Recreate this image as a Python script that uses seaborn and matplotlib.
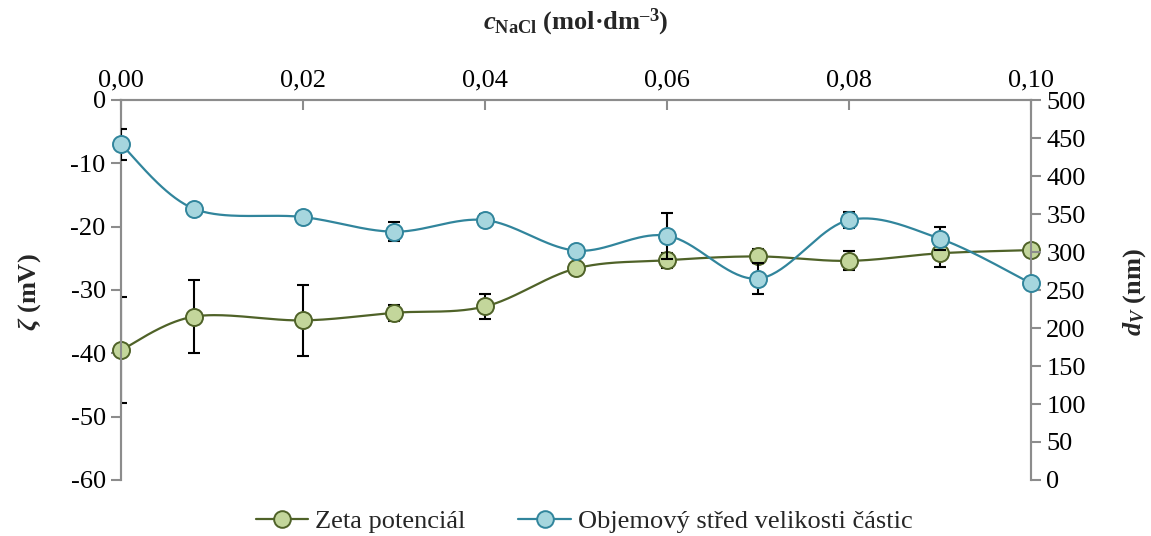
import numpy as np
import matplotlib
matplotlib.use("Agg")
import matplotlib.pyplot as plt
import seaborn as sns
import pandas as pd
from matplotlib.lines import Line2D
from matplotlib.ticker import FuncFormatter, FixedLocator

# ---- data ----
conc = [0.0, 0.008, 0.02, 0.03, 0.04, 0.05, 0.06, 0.07, 0.08, 0.09, 0.10]
zeta = [-39.5, -34.2, -34.8, -33.6, -32.6, -26.6, -25.3, -24.7, -25.4, -24.2, -23.7]
zeta_err = [8.4, 5.8, 5.6, 1.3, 2.0, 0.0, 1.2, 1.1, 1.5, 2.1, 0.0]
dv = [441.7, 357.0, 346.0, 326.7, 342.0, 301.8, 321.4, 265.0, 342.0, 317.5, 258.8]
dv_err = [20.0, 5.0, 0.0, 12.5, 8.0, 0.0, 30.0, 20.0, 11.0, 15.0, 0.0]
x_ticks = [0.0, 0.02, 0.04, 0.06, 0.08, 0.10]
left_ticks = [0, -10, -20, -30, -40, -50, -60]
right_ticks = [0, 50, 100, 150, 200, 250, 300, 350, 400, 450, 500]
labels = ["Zeta potenciál", "Objemový střed velikosti částic"]

sns.set_theme(style="white")
plt.rcParams['font.family'] = ['Liberation Serif', 'DejaVu Serif']
plt.rcParams['mathtext.fontset'] = 'custom'
plt.rcParams['mathtext.rm'] = 'Liberation Serif:bold'
plt.rcParams['mathtext.it'] = 'Liberation Serif:italic:bold'
plt.rcParams['mathtext.bf'] = 'Liberation Serif:bold'

G_LINE, G_FILL = "#4F6228", "#C3D69B"
B_LINE, B_FILL = "#31859C", "#A6D6DE"
SPINE = "#8C8C8C"
FS = 19
W_PX, H_PX = 1151, 536

fig = plt.figure(figsize=(11.51, 5.36), dpi=100)
ax = fig.add_axes([121/W_PX, 1-480/H_PX, (1031-121)/W_PX, (480-100)/H_PX])
ax2 = ax.twinx()

XMIN, XMAX = 0.0, 0.10
ax.set_xlim(XMIN, XMAX)
ax.set_ylim(-60, 0)
ax2.set_ylim(0, 500)


def smooth_curve(xs, ys, ylim, n=40):
    # Catmull-Rom style bezier in screen-proportional space
    W, H = 910.0, 380.0
    px = (np.asarray(xs) - XMIN) / (XMAX - XMIN) * W
    py = (np.asarray(ys) - ylim[0]) / (ylim[1] - ylim[0]) * H
    P = np.column_stack([px, py])
    out = []
    m = len(P)
    for i in range(m - 1):
        p0 = P[max(i - 1, 0)]
        p1 = P[i]
        p2 = P[i + 1]
        p3 = P[min(i + 2, m - 1)]
        c1 = p1 + (p2 - p0) / 6.0
        c2 = p2 - (p3 - p1) / 6.0
        t = np.linspace(0, 1, n)[:, None]
        seg = ((1 - t) ** 3) * p1 + 3 * ((1 - t) ** 2) * t * c1 + 3 * (1 - t) * t ** 2 * c2 + t ** 3 * p2
        out.append(seg if i == 0 else seg[1:])
    C = np.vstack(out)
    cx = C[:, 0] / W * (XMAX - XMIN) + XMIN
    cy = C[:, 1] / H * (ylim[1] - ylim[0]) + ylim[0]
    return cx, cy


df_z = pd.DataFrame({"c": conc, "v": zeta, "e": zeta_err})
df_d = pd.DataFrame({"c": conc, "v": dv, "e": dv_err})

MS = 150
# green series (left axis)
cx, cy = smooth_curve(conc, zeta, (-60, 0))
ax.plot(cx, cy, color=G_LINE, lw=1.6, zorder=2, clip_on=False)
ez = df_z[df_z.e > 0]
ax.errorbar(ez.c, ez.v, yerr=ez.e, fmt="none", ecolor="black", elinewidth=1.5,
            capsize=4, capthick=1.5, zorder=3)
sns.scatterplot(data=df_z, x="c", y="v", ax=ax, s=MS, color=G_FILL,
                edgecolor=G_LINE, linewidth=1.4, zorder=4, clip_on=False, legend=False)

# blue series (right axis)
cx, cy = smooth_curve(conc, dv, (0, 500))
ax2.plot(cx, cy, color=B_LINE, lw=1.6, zorder=2, clip_on=False)
ed = df_d[df_d.e > 0]
ax2.errorbar(ed.c, ed.v, yerr=ed.e, fmt="none", ecolor="black", elinewidth=1.5,
             capsize=4, capthick=1.5, zorder=3)
sns.scatterplot(data=df_d, x="c", y="v", ax=ax2, s=MS, color=B_FILL,
                edgecolor=B_LINE, linewidth=1.4, zorder=4, clip_on=False, legend=False)

# axes styling
for a in (ax, ax2):
    a.set_xlabel("")
    a.set_ylabel("")
    for s in a.spines.values():
        s.set_color(SPINE)
        s.set_linewidth(1.5)
    a.spines['bottom'].set_visible(False)

ax.xaxis.tick_top()
ax.xaxis.set_major_locator(FixedLocator(x_ticks))
ax.xaxis.set_major_formatter(FuncFormatter(lambda v, p: f"{v:.2f}".replace(".", ",")))
ax.tick_params(axis='x', which='both', direction='in', length=7, width=1.5, color=SPINE,
               labelsize=FS, pad=6, top=True, bottom=False, labelbottom=False, labeltop=True,
               labelcolor='black')
ax.yaxis.set_major_locator(FixedLocator(left_ticks))
ax.yaxis.set_major_formatter(FuncFormatter(lambda v, p: f"{int(round(v))}".replace("\u2212", "-")))
ax.tick_params(axis='y', direction='out', length=7, width=1.5, color=SPINE, labelsize=FS, pad=4,
               left=True, right=False, labelcolor='black')
ax2.yaxis.set_major_locator(FixedLocator(right_ticks))
ax2.yaxis.set_major_formatter(FuncFormatter(lambda v, p: f"{int(round(v))}"))
ax2.tick_params(axis='y', direction='out', length=7, width=1.5, color=SPINE, labelsize=FS, pad=4,
                right=True, left=False, labelcolor='black')
ax2.tick_params(axis='x', top=False, bottom=False, labeltop=False, labelbottom=False)

fig.text(576/W_PX, 1-22/H_PX, "$c_{\\mathrm{NaCl}}$ (mol·dm$^{\\mathrm{\u20133}}$)",
         fontsize=FS, fontweight='bold', ha='center', va='center')
fig.text(30/W_PX, 1-292/H_PX, "$ζ$ (mV)", fontsize=FS, fontweight='bold',
         ha='center', va='center', rotation=90)
fig.text(1135/W_PX, 1-292/H_PX, "$d_{V}$ (nm)", fontsize=FS, fontweight='bold',
         ha='center', va='center', rotation=90)

handles = [
    Line2D([0], [0], color=G_LINE, lw=1.6, marker='o', markersize=12,
           markerfacecolor=G_FILL, markeredgecolor=G_LINE, markeredgewidth=1.4),
    Line2D([0], [0], color=B_LINE, lw=1.6, marker='o', markersize=12,
           markerfacecolor=B_FILL, markeredgecolor=B_LINE, markeredgewidth=1.4),
]
fig.legend(handles, labels, loc='center', bbox_to_anchor=(584/W_PX, 1-521/H_PX), ncol=2,
           frameon=False, fontsize=FS, handlelength=2.0, handletextpad=0.25, columnspacing=2.0,
           borderaxespad=0, borderpad=0)

fig.savefig("out.png", dpi=100)
